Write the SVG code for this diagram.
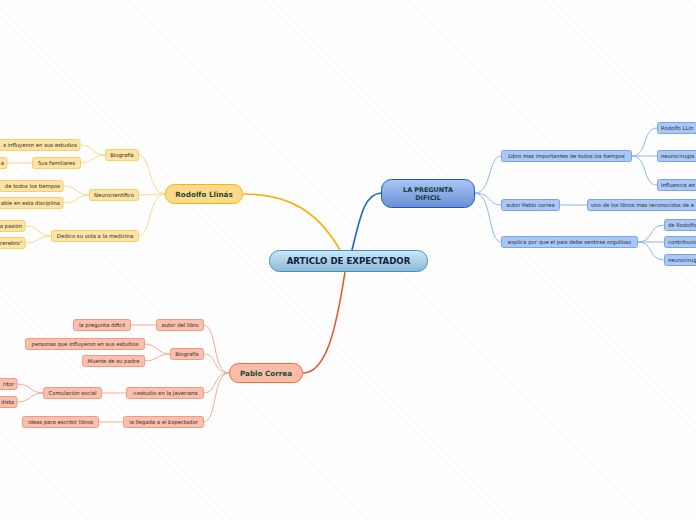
<svg xmlns="http://www.w3.org/2000/svg" width="696" height="520" viewBox="0 0 696 520">
<defs>
<pattern id="hatch" width="6" height="6" patternUnits="userSpaceOnUse" patternTransform="rotate(-45)">
<rect width="6" height="6" fill="#ffffff"/>
<line x1="0" y1="0" x2="0" y2="6" stroke="#f3f3f3" stroke-width="1"/>
</pattern>
<linearGradient id="gCentral" x1="0" y1="0" x2="0" y2="1">
<stop offset="0" stop-color="#cde9f5"/><stop offset="1" stop-color="#8ab9d2"/>
</linearGradient>
<linearGradient id="gBlue" x1="0" y1="0" x2="0" y2="1">
<stop offset="0" stop-color="#a9c6f5"/><stop offset="1" stop-color="#6b8ed4"/>
</linearGradient>
</defs>
<style>
.sm{font-family:"DejaVu Sans",Verdana,sans-serif;font-size:5.3px;fill:#2a2a2a;}
.big{font-family:"DejaVu Sans",Verdana,sans-serif;font-weight:bold;fill:#1b4a3a;}
.bb{fill:#a9c8f7;stroke:#6d9de6;stroke-width:0.9;}
.yb{fill:#fde3a4;stroke:#f7c95a;stroke-width:0.9;}
.sb{fill:#fbc0ad;stroke:#f2927a;stroke-width:0.9;}
.cb{fill:none;stroke:#8cb5ef;stroke-width:1;}
.cy{fill:none;stroke:#fdd78a;stroke-width:1;}
.cs{fill:none;stroke:#f7a890;stroke-width:1;}
</style>
<rect width="696" height="520" fill="url(#hatch)"/>

<g id="connectors">
<path d="M352,250 C360,218 364,194 381,193" fill="none" stroke="#1565c8" stroke-width="1.6"/>
<path d="M340,250 C318,212 290,194 243,194" fill="none" stroke="#f6b10a" stroke-width="1.6"/>
<path d="M345,272 C336,330 326,373 303,373" fill="none" stroke="#e8572c" stroke-width="1.6"/>

<path class="cb" d="M475,193 C492,193 488,156 501,156"/>
<path class="cb" d="M475,193 C492,193 488,205 501,205"/>
<path class="cb" d="M475,193 C492,193 488,242 501,242"/>
<path class="cb" d="M632,156 C648,156 642,128 657,128"/>
<path class="cb" d="M632,156 L657,156"/>
<path class="cb" d="M632,156 C648,156 642,185 657,185"/>
<path class="cb" d="M560,205 L587,205"/>
<path class="cb" d="M638,242 C654,242 648,225 664,225"/>
<path class="cb" d="M638,242 L664,242"/>
<path class="cb" d="M638,242 C654,242 648,260 664,260"/>

<path class="cy" d="M165,194 C148,194 152,155 138,155"/>
<path class="cy" d="M165,194 C150,194 150,195 138,195"/>
<path class="cy" d="M165,194 C148,194 152,236 138,236"/>
<path class="cy" d="M105,155 C92,155 94,145 80,145"/>
<path class="cy" d="M105,155 C92,155 94,163 80,163"/>
<path class="cy" d="M32,163 L7,163"/>
<path class="cy" d="M89,195 C76,195 78,186 63,186"/>
<path class="cy" d="M89,195 C76,195 78,203 63,203"/>
<path class="cy" d="M51,236 C38,236 40,226 25,226"/>
<path class="cy" d="M51,236 C38,236 40,243 25,243"/>

<path class="cs" d="M229,373 C212,373 218,325 203,325"/>
<path class="cs" d="M229,373 C212,373 218,354 203,354"/>
<path class="cs" d="M229,373 C212,373 218,393 203,393"/>
<path class="cs" d="M229,373 C212,373 218,422 203,422"/>
<path class="cs" d="M156,325 L130,325"/>
<path class="cs" d="M170,354 C157,354 158,344 144,344"/>
<path class="cs" d="M170,354 C157,354 158,361 144,361"/>
<path class="cs" d="M126,393 L101,393"/>
<path class="cs" d="M43,393 C30,393 31,384 17,384"/>
<path class="cs" d="M43,393 C30,393 31,402 17,402"/>
<path class="cs" d="M123,422 L98,422"/>
</g>

<g id="central">
<rect x="269.5" y="250.5" width="158" height="21" rx="10" fill="url(#gCentral)" stroke="#3f8fcf" stroke-width="1"/>
<text x="348.5" y="264.3" text-anchor="middle" class="big" style="font-size:8.6px;fill:#10214a">ARTICLO DE EXPECTADOR</text>
</g>

<g id="la-pregunta">
<rect x="381.5" y="179.5" width="93" height="28" rx="10" fill="url(#gBlue)" stroke="#1b5bbf" stroke-width="1"/>
<text x="428" y="191.5" text-anchor="middle" class="big" style="font-size:6.4px;fill:#0b3b3b">LA PREGUNTA</text>
<text x="428" y="199.5" text-anchor="middle" class="big" style="font-size:6.4px;fill:#0b3b3b">DIFICIL</text>
</g>

<g id="rodolfo">
<rect x="165.5" y="184.5" width="77" height="19" rx="9" fill="#ffd98a" stroke="#f5b700" stroke-width="1"/>
<text x="204" y="196.7" text-anchor="middle" class="big" style="font-size:7.2px">Rodolfo Llinás</text>
</g>

<g id="pablo">
<rect x="229.5" y="363.5" width="73" height="19" rx="9" fill="#f9bca6" stroke="#ea6a40" stroke-width="1"/>
<text x="266" y="375.7" text-anchor="middle" class="big" style="font-size:7.2px">Pablo Correa</text>
</g>

<g id="libro"><rect class="bb" x="501.5" y="150.5" width="130" height="11" rx="2"/><text class="sm" x="566.5" y="158" text-anchor="middle">Libro mas importantes de todos los tiempos</text></g>
<g id="autor-pablo"><rect class="bb" x="501.5" y="199.5" width="58" height="11" rx="2"/><text class="sm" x="530.5" y="207" text-anchor="middle">autor Pablo correa</text></g>
<g id="explica"><rect class="bb" x="501.5" y="236.5" width="136" height="11" rx="2"/><text class="sm" x="569.5" y="244" text-anchor="middle">explica por que el pais debe sentirse orgulloso</text></g>
<g id="uno-de-los"><rect class="bb" x="587.5" y="199.5" width="120" height="11" rx="2"/><text class="sm" x="591" y="207">uno de los libros mas reconocidos de e</text></g>
<g id="rodolfo-llin"><rect class="bb" x="657.5" y="122.5" width="50" height="11" rx="2"/><text class="sm" x="661" y="130">Rodolfo LLin</text></g>
<g id="neurocirugia"><rect class="bb" x="657.5" y="150.5" width="50" height="11" rx="2"/><text class="sm" x="661" y="158">neurocirugia</text></g>
<g id="influencia"><rect class="bb" x="657.5" y="179.5" width="50" height="11" rx="2"/><text class="sm" x="661" y="187">influencia en</text></g>
<g id="de-rodolfo"><rect class="bb" x="664.5" y="219.5" width="45" height="11" rx="2"/><text class="sm" x="668" y="227">de Rodolfo</text></g>
<g id="contribucion"><rect class="bb" x="664.5" y="236.5" width="45" height="11" rx="2"/><text class="sm" x="668" y="244">contribucio</text></g>
<g id="neurocirug"><rect class="bb" x="664.5" y="254.5" width="45" height="11" rx="2"/><text class="sm" x="668" y="262">neurocirug</text></g>

<g id="biografia-r"><rect class="yb" x="105.5" y="149.5" width="33" height="11" rx="2"/><text class="sm" x="122" y="157" text-anchor="middle">Biografía</text></g>
<g id="neurocientifico"><rect class="yb" x="89.5" y="189.5" width="49" height="11" rx="2"/><text class="sm" x="114" y="197" text-anchor="middle">Neurocientífico</text></g>
<g id="dedico"><rect class="yb" x="51.5" y="230.5" width="87" height="11" rx="2"/><text class="sm" x="95" y="238" text-anchor="middle">Dedico su vida a la medicina</text></g>
<g id="influyeron-r"><rect class="yb" x="-20" y="139.5" width="100" height="11" rx="2"/><text class="sm" x="77" y="147" text-anchor="end">s influyeron en sus estudios</text></g>
<g id="sus-familiares"><rect class="yb" x="32.5" y="157.5" width="48" height="11" rx="2"/><text class="sm" x="56.5" y="165" text-anchor="middle">Sus familiares</text></g>
<g id="fam-a"><rect class="yb" x="-20" y="157.5" width="27" height="11" rx="2"/><text class="sm" x="4" y="165" text-anchor="end">a</text></g>
<g id="tiempos"><rect class="yb" x="-20" y="180.5" width="83" height="11" rx="2"/><text class="sm" x="60" y="188" text-anchor="end">de todos los tiempos</text></g>
<g id="disciplina"><rect class="yb" x="-20" y="197.5" width="83" height="11" rx="2"/><text class="sm" x="60" y="205" text-anchor="end">able en esta disciplina</text></g>
<g id="pasion"><rect class="yb" x="-20" y="220.5" width="45" height="11" rx="2"/><text class="sm" x="22" y="228" text-anchor="end">a pasión</text></g>
<g id="cerebro"><rect class="yb" x="-20" y="237.5" width="45" height="11" rx="2"/><text class="sm" x="22" y="245" text-anchor="end">cerebro"</text></g>

<g id="autor-libro"><rect class="sb" x="156.5" y="319.5" width="47" height="11" rx="2"/><text class="sm" x="180" y="327" text-anchor="middle">autor del libro</text></g>
<g id="pregunta-dificil"><rect class="sb" x="73.5" y="319.5" width="57" height="11" rx="2"/><text class="sm" x="102" y="327" text-anchor="middle">la pregunta dificil</text></g>
<g id="biografia-p"><rect class="sb" x="170.5" y="348.5" width="33" height="11" rx="2"/><text class="sm" x="187" y="356" text-anchor="middle">Biografía</text></g>
<g id="personas"><rect class="sb" x="25.5" y="338.5" width="119" height="11" rx="2"/><text class="sm" x="85" y="346" text-anchor="middle">personas que influyeron en sus estudios</text></g>
<g id="muerte"><rect class="sb" x="82.5" y="355.5" width="62" height="11" rx="2"/><text class="sm" x="113.5" y="363" text-anchor="middle">Muerte de su padre</text></g>
<g id="estudio"><rect class="sb" x="126.5" y="387.5" width="77" height="11" rx="2"/><text class="sm" x="165" y="395" text-anchor="middle">&lt;estudio en la Javeriana</text></g>
<g id="comulacion"><rect class="sb" x="43.5" y="387.5" width="58" height="11" rx="2"/><text class="sm" x="72.5" y="395" text-anchor="middle">Comulación social</text></g>
<g id="ritor"><rect class="sb" x="-20" y="378.5" width="37" height="11" rx="2"/><text class="sm" x="14" y="386" text-anchor="end">ritor</text></g>
<g id="dista"><rect class="sb" x="-20" y="396.5" width="37" height="11" rx="2"/><text class="sm" x="14" y="404" text-anchor="end">dista</text></g>
<g id="llegada"><rect class="sb" x="123.5" y="416.5" width="80" height="11" rx="2"/><text class="sm" x="163.5" y="424" text-anchor="middle">la llegada a el Espectador</text></g>
<g id="ideas"><rect class="sb" x="22.5" y="416.5" width="76" height="11" rx="2"/><text class="sm" x="60.5" y="424" text-anchor="middle">ideas para escribir libros</text></g>
</svg>
